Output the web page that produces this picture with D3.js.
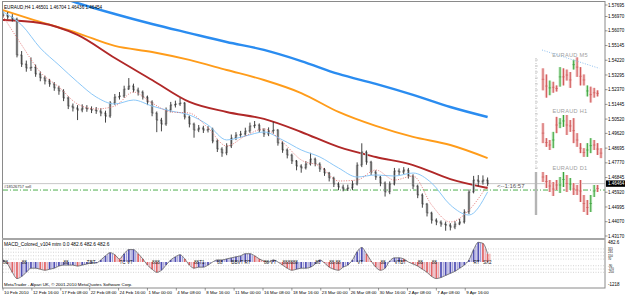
<!DOCTYPE html>
<html><head><meta charset="utf-8">
<script src="https://cdn.jsdelivr.net/npm/d3@7"></script>
<style>body{margin:0;background:#fff}svg{display:block;font-family:"Liberation Sans",Arial,sans-serif}</style>
</head><body><svg id="c" width="625" height="296"></svg>
<script>
// ---------- DATA ----------
const closes=[1.5707,1.5694,1.5681,1.5455,1.5398,1.5373,1.5378,1.5336,1.5311,1.5292,
1.5273,1.5248,1.5229,1.5185,1.5134,1.5122,1.5109,1.5122,1.5116,1.5109,
1.5103,1.5090,1.5071,1.5153,1.5191,1.5197,1.5241,1.5260,1.5235,1.5222,
1.5191,1.5160,1.5090,1.5046,1.5021,1.5109,1.5141,1.5147,1.5153,1.5065,
1.5021,1.4983,1.4996,1.4983,1.4990,1.4914,1.4864,1.4839,1.4883,1.4933,
1.4952,1.4958,1.4977,1.5009,1.5015,1.4983,1.4958,1.4977,1.4983,1.4902,
1.4858,1.4826,1.4789,1.4757,1.4745,1.4770,1.4801,1.4770,1.4738,1.4713,
1.4682,1.4644,1.4625,1.4612,1.4619,1.4644,1.4763,1.4845,1.4782,1.4719,
1.4688,1.4650,1.4594,1.4644,1.4726,1.4719,1.4732,1.4694,1.4631,1.4575,
1.4518,1.4462,1.4417,1.4405,1.4392,1.4386,1.4373,1.4392,1.4405,1.4468,
1.4594,1.4669,1.4657,1.4669,1.4646];
const highs=[1.5730,1.5725,1.5712,1.5690,1.5480,1.5420,1.5440,1.5395,1.5352,1.5325,
1.5305,1.5285,1.5262,1.5240,1.5195,1.5150,1.5140,1.5145,1.5140,1.5132,
1.5128,1.5120,1.5105,1.5165,1.5210,1.5222,1.5262,1.5310,1.5275,1.5250,
1.5232,1.5200,1.5170,1.5100,1.5060,1.5125,1.5160,1.5168,1.5185,1.5160,
1.5075,1.5030,1.5015,1.5010,1.5008,1.4998,1.4925,1.4875,1.4900,1.4955,
1.4970,1.4978,1.4998,1.5030,1.5040,1.5025,1.4995,1.5000,1.5035,1.4990,
1.4912,1.4868,1.4835,1.4795,1.4768,1.4788,1.4840,1.4810,1.4780,1.4745,
1.4720,1.4690,1.4655,1.4640,1.4640,1.4665,1.4780,1.4900,1.4855,1.4790,
1.4730,1.4695,1.4660,1.4660,1.4745,1.4742,1.4750,1.4745,1.4705,1.4640,
1.4585,1.4525,1.4470,1.4428,1.4415,1.4408,1.4398,1.4410,1.4425,1.4485,
1.4610,1.4695,1.4700,1.4698,1.4685];
const lows=[1.5690,1.5680,1.5665,1.5440,1.5380,1.5350,1.5355,1.5318,1.5290,1.5270,
1.5255,1.5230,1.5205,1.5165,1.5115,1.5100,1.5046,1.5095,1.5098,1.5090,
1.5085,1.5070,1.5030,1.5060,1.5140,1.5175,1.5185,1.5235,1.5220,1.5200,
1.5175,1.5140,1.5070,1.4970,1.4975,1.5010,1.5095,1.5125,1.5135,1.5050,
1.5000,1.4935,1.4970,1.4965,1.4968,1.4900,1.4845,1.4815,1.4825,1.4870,
1.4920,1.4935,1.4945,1.4965,1.4995,1.4968,1.4940,1.4945,1.4960,1.4885,
1.4840,1.4805,1.4770,1.4730,1.4715,1.4735,1.4760,1.4755,1.4720,1.4695,
1.4660,1.4625,1.4605,1.4598,1.4600,1.4605,1.4635,1.4750,1.4765,1.4700,
1.4670,1.4630,1.4565,1.4580,1.4635,1.4700,1.4705,1.4678,1.4612,1.4555,
1.4495,1.4440,1.4395,1.4385,1.4375,1.4350,1.4352,1.4360,1.4385,1.4395,
1.4455,1.4585,1.4630,1.4640,1.4630];
const firstOpen=1.5700;

// moving averages (sampled every 8 / every 4 bars)
const slowIdx=[0,8,16,24,32,40,48,56,64,72,80,88,96,104];
const maBlue=[1.5927,1.5864,1.5782,1.5713,1.5650,1.5593,1.5537,1.5487,1.5417,1.5336,1.5273,1.5204,1.5128,1.5065];
const maOrange=[1.5738,1.5663,1.5593,1.5512,1.5474,1.5424,1.5361,1.5298,1.5216,1.5097,1.5009,1.4940,1.4889,1.4807];
const maRed=[1.5675,1.5656,1.5581,1.5436,1.5298,1.5160,1.5097,1.5053,1.4971,1.4877,1.4814,1.4763,1.4675,1.4619];
const fastIdx=[0,4,8,12,16,20,24,28,32,36,40,44,48,52,56,60,64,68,72,76,80,84,88,92,96,100,104];
const maLightBlue=[1.5726,1.5644,1.5499,1.5392,1.5285,1.5191,1.5147,1.5172,1.5134,1.5103,1.5078,1.5015,1.4921,1.4946,1.4971,1.4921,1.4858,1.4814,1.4745,1.4688,1.4701,1.4694,1.4713,1.4650,1.4512,1.4449,1.4594];
const maPink=[1.5700,1.5518,1.5348,1.5254,1.5147,1.5116,1.5134,1.5222,1.5153,1.5097,1.5090,1.4996,1.4883,1.4946,1.4990,1.4908,1.4795,1.4757,1.4663,1.4669,1.4732,1.4669,1.4694,1.4512,1.4405,1.4480,1.4638];

const priceTicks=[1.57695,1.56970,1.56070,1.55145,1.54220,1.53295,1.52370,1.51445,1.50520,1.49620,1.48695,1.47770,1.46845,1.45920,1.44995,1.44070,1.43170];
const bidPrice=1.46464, orderPrice=1.4606;
const timeLabels=["10 Feb 2010","12 Feb 16:00","17 Feb 08:00","22 Feb 08:00","24 Feb 16:00","1 Mar 00:00","4 Mar 08:00","8 Mar 16:00","11 Mar 00:00","16 Mar 08:00","18 Mar 16:00","23 Mar 00:00","26 Mar 08:00","30 Mar 16:00","2 Apr 08:00","7 Apr 08:00","9 Apr 16:00"];

// MACD
const macd=[50,-50,-250,-400,-350,-250,-150,-150,-175,-200,
-175,-150,-100,-75,-75,-75,-100,-75,-50,-25,
-25,50,150,225,175,75,200,300,300,200,
75,-75,-175,-250,-200,-75,50,125,175,75,
-75,-150,-125,-125,-75,0,50,50,75,100,
125,150,200,200,150,75,25,0,50,0,
-75,-150,-200,-175,-150,-150,-125,-50,50,-25,
-125,-175,-200,-125,-75,50,250,350,200,25,
-125,-200,-150,25,100,100,75,0,-50,-100,
-175,-250,-350,-400,-375,-325,-275,-225,-150,-75,
50,300,475,450,200];
const macdLevels=[315,235,150,70,-90,-170,-250];
const macdAxisLabels=["482.6","-1218"];
const macdTagIdx=[0,4,13,18,25,32,41,46,49,56,60,67,70,76,81,84,89,92,101,103];
const macdTags=["88","88","88","TBT","TC VT","888","88T1","88","BBVT RT","88 VT","888888","86","88 88","VT","88","VTBT","88","88","RT","SX2"];

// mini charts
const m5Hi=[1.4660,1.4655,1.4650,1.4649,1.4646,1.4661,1.4660,1.4659,1.4657,1.4667,1.4669,1.4661,1.4655,1.4646,1.4645,1.4644,1.4642];
const m5Lo=[1.4642,1.4636,1.4638,1.4640,1.4641,1.4645,1.4646,1.4650,1.4644,1.4659,1.4653,1.4646,1.4646,1.4637,1.4632,1.4636,1.4637];
const m5Up=[0,0,1,0,0,1,0,0,0,1,0,0,0,1,0,0,0];
const m5Trend=[1.4675,1.4660];
const h1Hi=[1.4659,1.4635,1.4632,1.4645,1.4669,1.4667,1.4672,1.4672,1.4664,1.4667,1.4643,1.4627,1.4619,1.4627,1.4635,1.4632,1.4627,1.4619];
const h1Lo=[1.4627,1.4621,1.4616,1.4619,1.4643,1.4651,1.4653,1.4640,1.4645,1.4627,1.4621,1.4611,1.4605,1.4605,1.4611,1.4616,1.4608,1.4603];
const h1Up=[0,0,0,1,0,1,1,0,0,0,0,0,0,1,1,0,0,0];
const d1Hi=[1.5452,1.5380,1.5260,1.5212,1.5260,1.5332,1.5452,1.5380,1.5308,1.5188,1.5140,1.5260,1.4900,1.4780,1.4900,1.5140,1.5140];
const d1Lo=[1.5212,1.5068,1.4972,1.4876,1.5020,1.4948,1.5092,1.4972,1.5020,1.4900,1.4900,1.4732,1.4492,1.4420,1.4492,1.4852,1.4972];
const d1Up=[0,0,0,0,0,1,1,0,1,0,0,0,0,0,1,1,0];

// ---------- DRAW ----------
const svg=d3.select('#c');
const xB=d3.scaleLinear().domain([0,104]).range([3,487.6]);
const yP=d3.scaleLinear().domain([1.43170,1.57695]).range([236,5]);
const yM=d3.scaleLinear().domain([-580,482.6]).range([286,242]);

svg.append('rect').attr('width',625).attr('height',296).attr('fill','#fff');
const defs=svg.append('defs');
defs.append('clipPath').attr('id','mainClip').append('rect').attr('x',2).attr('y',2).attr('width',603).attr('height',236);

// horizontal lines
svg.append('line').attr('x1',3).attr('x2',605).attr('y1',yP(bidPrice)).attr('y2',yP(bidPrice)).attr('stroke','#c8c8c8').attr('stroke-width',1);
svg.append('line').attr('x1',3).attr('x2',605).attr('y1',yP(orderPrice)).attr('y2',yP(orderPrice)).attr('stroke','#3aa53a').attr('stroke-width',0.9).attr('stroke-dasharray','5,2,1,2');
svg.append('text').attr('x',4).attr('y',yP(orderPrice)-2).attr('font-size',4).attr('fill','#333').text('#18526757 sell');

const main=svg.append('g').attr('clip-path','url(#mainClip)');
const lineGen=(idx)=>d3.line().x((d,i)=>xB(idx[i])).y(d=>yP(d)).curve(d3.curveMonotoneX);

main.append('path').attr('d',lineGen(slowIdx)(maBlue)).attr('fill','none').attr('stroke','#2a8cf0').attr('stroke-width',2.4);
main.append('path').attr('d',lineGen(slowIdx)(maOrange)).attr('fill','none').attr('stroke','#ff9c1a').attr('stroke-width',1.9);
main.append('path').attr('d',lineGen(slowIdx)(maRed)).attr('fill','none').attr('stroke','#b02828').attr('stroke-width',1.9);

// price bars
const bars=main.append('g');
closes.forEach((c,i)=>{
  const o=i?closes[i-1]:firstOpen;
  const x=xB(i);
  const yt=yP(Math.max(o,c)), yb=yP(Math.min(o,c));
  bars.append('rect').attr('x',x-1.3).attr('width',2.6).attr('y',yt).attr('height',Math.max(1,yb-yt)).attr('fill','#b9b9b9');
  bars.append('line').attr('x1',x).attr('x2',x).attr('y1',yP(highs[i])).attr('y2',yP(lows[i])).attr('stroke','#2e2e2e').attr('stroke-width',0.9);
  bars.append('line').attr('x1',x-1.4).attr('x2',x).attr('y1',yP(o)).attr('y2',yP(o)).attr('stroke','#2e2e2e').attr('stroke-width',0.6);
  bars.append('line').attr('x1',x).attr('x2',x+1.4).attr('y1',yP(c)).attr('y2',yP(c)).attr('stroke','#2e2e2e').attr('stroke-width',0.6);
});
main.append('path').attr('d',lineGen(fastIdx)(maLightBlue)).attr('fill','none').attr('stroke','#8cc8f8').attr('stroke-width',1);
main.append('path').attr('d',lineGen(fastIdx)(maPink)).attr('fill','none').attr('stroke','#e06a6a').attr('stroke-width',0.9).attr('stroke-dasharray','1,1.5');

// title
svg.append('text').attr('x',4).attr('y',9).attr('font-size',4.6).attr('fill','#000').text('EURAUD,H4  1.46501 1.46704 1.46436 1.46454');
// countdown
svg.append('text').attr('x',497).attr('y',yP(bidPrice)+4).attr('font-size',6).attr('fill','#555').text('<--1:16:57');

// mini charts
const miniX=d3.scaleLinear().domain([0,17]).range([543,601]);
function mini(hi,lo,up,dom,rng,title,ty){
  const ys=d3.scaleLinear().domain(dom).range(rng);
  const g=svg.append('g');
  hi.forEach((h,i)=>{
    const x=miniX(i);
    g.append('rect').attr('x',x-1.6).attr('width',3).attr('y',ys(h)).attr('height',ys(lo[i])-ys(h)).attr('fill',up[i]?'#c6ecc6':'#f3c6c6');
    g.append('line').attr('x1',x).attr('x2',x).attr('y1',ys(h)).attr('y2',ys(lo[i])).attr('stroke',up[i]?'#38a038':'#d05858').attr('stroke-width',1);
    const m=(h+lo[i])/2;
    g.append('line').attr('x1',x-1.3).attr('x2',x+1.3).attr('y1',ys(m)).attr('y2',ys(m)).attr('stroke',up[i]?'#38a038':'#d05858').attr('stroke-width',0.6);
  });
  svg.append('text').attr('x',570).attr('y',ty).attr('text-anchor','middle').attr('font-size',5.6).attr('fill','#a0a0a0').attr('letter-spacing',0.3).text(title);
  return ys;
}
const ym5=mini(m5Hi,m5Lo,m5Up,[1.4630,1.4675],[105,50],'EURAUD M5',57);
svg.append('line').attr('x1',miniX(0)-1).attr('x2',miniX(16.5)).attr('y1',ym5(m5Trend[0])).attr('y2',ym5(m5Trend[1])).attr('stroke','#8fc0f0').attr('stroke-width',1).attr('stroke-dasharray','1,1.5');
mini(h1Hi,h1Lo,h1Up,[1.4600,1.4680],[160,110],'EURAUD H1',113);
mini(d1Hi,d1Lo,d1Up,[1.4300,1.5500],[220,170],'EURAUD D1',170);
// mini axis
svg.append('line').attr('x1',536).attr('x2',536).attr('y1',58).attr('y2',170).attr('stroke','#a8a8a8').attr('stroke-width',0.8).attr('stroke-dasharray','1,1.5');
d3.range(60,170,6).forEach(y=>svg.append('line').attr('x1',535).attr('x2',538).attr('y1',y).attr('y2',y).attr('stroke','#b0b0b0').attr('stroke-width',0.6));
svg.append('line').attr('x1',536).attr('x2',536).attr('y1',172).attr('y2',215).attr('stroke','#b4b4b4').attr('stroke-width',2.4);

// MACD pane
const mg=svg.append('g');
macdLevels.forEach(v=>mg.append('line').attr('x1',3).attr('x2',604).attr('y1',yM(v)).attr('y2',yM(v)).attr('stroke','#b8b8b8').attr('stroke-width',0.6).attr('stroke-dasharray','1,1.5'));
mg.append('path').attr('d',d3.area().x((d,i)=>xB(i)).y0(yM(0)).y1(d=>yM(d)).curve(d3.curveMonotoneX)(macd)).attr('fill','#ece8f4');
macd.forEach((v,i)=>{
  const up=i?v>=macd[i-1]:true;
  mg.append('line').attr('x1',xB(i)).attr('x2',xB(i)).attr('y1',yM(0)).attr('y2',yM(v)).attr('stroke',up?'#5050b4':'#e46464').attr('stroke-width',1.7);
  mg.append('line').attr('x1',xB(i)+2.3).attr('x2',xB(i)+2.3).attr('y1',yM(0)).attr('y2',yM(i<104?(v+macd[i+1])/2:v)).attr('stroke',up?'#9a9ad6':'#f0a0a0').attr('stroke-width',1);
});
mg.append('path').attr('d',d3.line().x((d,i)=>xB(i)).y(d=>yM(d)).curve(d3.curveMonotoneX)(macd)).attr('fill','none').attr('stroke','#505050').attr('stroke-width',0.7);
macdTagIdx.forEach((ix,k)=>mg.append('text').attr('x',xB(ix)).attr('y',yM(0)+2).attr('font-size',4.6).attr('fill','#222').text(macdTags[k]));
svg.append('text').attr('x',4).attr('y',245.5).attr('font-size',4.8).attr('fill','#000').text('MACD_Colored_v104 mtm 0.0 482.6 482.6 482.6');
svg.append('text').attr('x',4).attr('y',285.5).attr('font-size',4.4).attr('fill','#000').text('MetaTrader - Alpari UK, © 2001-2010 MetaQuotes Software Corp.');

// frame
svg.append('rect').attr('x',2.5).attr('y',1.5).attr('width',602.5).attr('height',286.5).attr('fill','none').attr('stroke','#8a8a8a').attr('stroke-width',1);
svg.append('line').attr('x1',2).attr('x2',605).attr('y1',239).attr('y2',239).attr('stroke','#a6a6a6').attr('stroke-width',2);

// price axis
const ax=svg.append('g');
priceTicks.forEach(v=>{
  ax.append('line').attr('x1',605).attr('x2',607.5).attr('y1',yP(v)).attr('y2',yP(v)).attr('stroke','#555').attr('stroke-width',0.6);
  ax.append('text').attr('x',608).attr('y',yP(v)+1.6).attr('font-size',4.5).attr('fill','#000').text(v.toFixed(5));
});
ax.append('rect').attr('x',606).attr('y',yP(bidPrice)-3.2).attr('width',19).attr('height',6.4).attr('fill','#000');
ax.append('text').attr('x',608).attr('y',yP(bidPrice)+1.6).attr('font-size',4.5).attr('fill','#fff').text(bidPrice.toFixed(5));
// macd axis
ax.append('text').attr('x',608).attr('y',yM(482.6)+2).attr('font-size',4.5).text(macdAxisLabels[0]);
ax.append('text').attr('x',608).attr('y',yM(-580)-0.5).attr('font-size',4.5).text(macdAxisLabels[1]);
macdLevels.forEach(v=>ax.append('text').attr('x',608).attr('y',yM(v)+1.1).attr('font-size',2.9).attr('fill','#000').text(v));

// time axis
timeLabels.forEach((t,k)=>{
  const x=xB(k*6.2);
  ax.append('line').attr('x1',x).attr('x2',x).attr('y1',288).attr('y2',290.5).attr('stroke','#555').attr('stroke-width',0.6);
  ax.append('text').attr('x',x+1).attr('y',294).attr('font-size',4.4).attr('fill','#000').text(t);
});
</script></body></html>
